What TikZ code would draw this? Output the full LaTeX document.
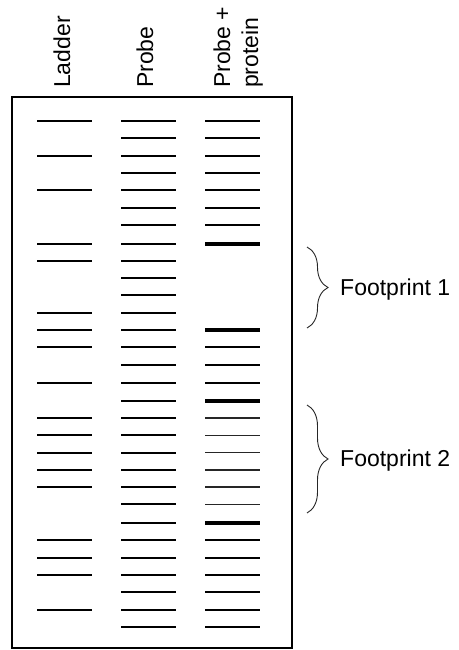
\documentclass[tikz,border=0pt]{standalone}
\usepackage{fontspec}
\setmainfont{Liberation Sans}
\usetikzlibrary{decorations.pathreplacing}
\tikzset{
  gelframe/.style={draw=black, line width=2pt},
  bandnorm/.style={line width=2.2pt, line cap=butt},
  bandthick/.style={line width=3.6pt, line cap=butt},
  bandthin/.style={line width=1.1pt, line cap=butt, draw=black!85},
  lanelabel/.style={rotate=90, anchor=base west, inner sep=0pt, font=\fontsize{23}{27}\selectfont},
  fplabel/.style={anchor=base west, inner sep=0pt, font=\fontsize{23}{27}\selectfont},
  fpbrace/.style={decorate, decoration={brace, amplitude=21pt}, line width=0.9pt, draw=black!85}
}
\begin{document}
\begin{tikzpicture}[x=1pt, y=-1pt]
\useasboundingbox (0,0) rectangle (458,650);
% gel frame
\draw[gelframe] (12,97) rectangle (292.3,648.3);
% lane labels
\node[lanelabel] (ladder) at (70,88) {Ladder};
\node[lanelabel] (probe) at (153,88) {Probe};
\node[lanelabel] (pp1) at (230,88) {Probe +};
\node[lanelabel] (pp2) at (258,88) {protein};
% ladder lane
\foreach \y in {121,155.7,190.3,243.7,261,312.7,330,347.3,383.3,418,435.3,452.7,470,487,540.3,557.7,575,609.7}
  \draw[bandnorm] (37,\y) -- (92,\y);
% probe lane
\foreach \y in {121,138.3,155.7,173,190.3,207.7,225,243.7,261,278.3,295.3,312.7,330,347.3,364.7,383.3,400.7,418,435.3,452.7,470,487,504.3,523,540.3,557.7,575,592.3,609.7,627}
  \draw[bandnorm] (121,\y) -- (176,\y);
% probe + protein lane
\foreach \y in {121,138.3,155.7,173,190.3,207.7,225,347.3,364.7,383.3,540.3,557.7,575,592.3,609.7,627}
  \draw[bandnorm] (205,\y) -- (260,\y);
\foreach \y in {243.7,330,400.7,523}
  \draw[bandthick] (205,\y) -- (260,\y);
\foreach \y in {418,435.3,452.7,470,487,504.3}
  \draw[bandthin] (205,\y) -- (260,\y);
% braces
\coordinate (b1t) at (307,247);
\coordinate (b1b) at (307,328);
\coordinate (b2t) at (307,405);
\coordinate (b2b) at (307,513);
\draw[fpbrace] (b1t) -- (b1b);
\draw[fpbrace] (b2t) -- (b2b);
\node[fplabel] (fp1) at (340,295) {Footprint 1};
\node[fplabel] (fp2) at (340,466.7) {Footprint 2};
\end{tikzpicture}
\end{document}
